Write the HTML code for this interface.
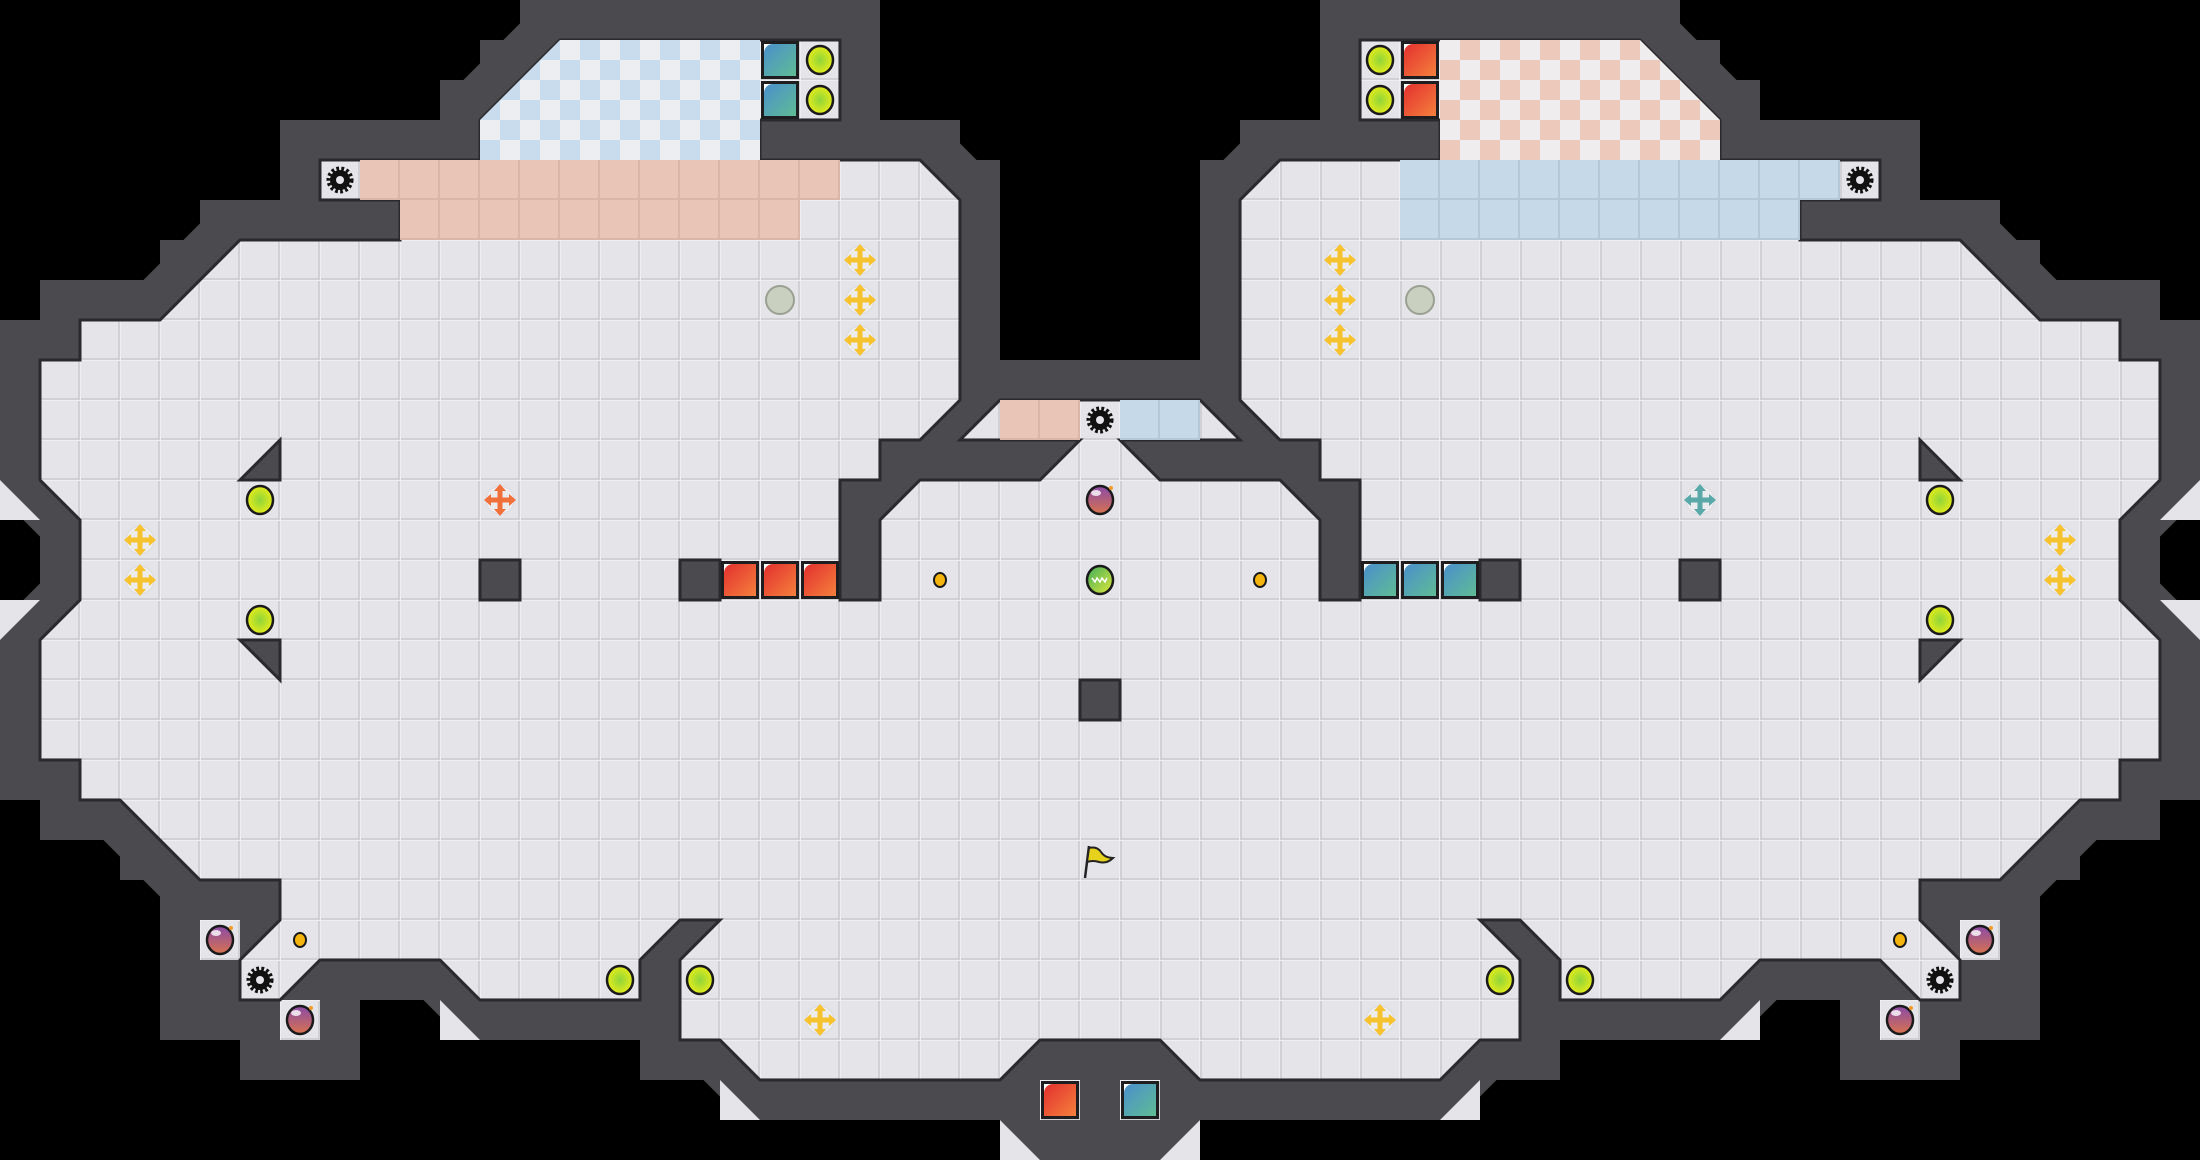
<!DOCTYPE html>
<html><head><meta charset="utf-8"><style>html,body{margin:0;padding:0;background:#000}svg{display:block}</style></head>
<body>
<svg width="2200" height="1160" viewBox="0 0 2200 1160" xmlns="http://www.w3.org/2000/svg">
<defs>
<pattern id="grid" patternUnits="userSpaceOnUse" x="0" y="0" width="40" height="40">
<rect width="40" height="40" fill="#e5e5e9"/><path d="M0,39 H40 M39,0 V40" stroke="#d0d0d5" stroke-width="2"/><path d="M0,0.5 H40 M0.5,0 V40" stroke="#efeff2" stroke-width="1"/></pattern>
<pattern id="gS" patternUnits="userSpaceOnUse" width="40" height="40"><rect width="40" height="40" fill="#e9c5b7"/><path d="M0,39 H40 M39,0 V40" stroke="#dbb5a6" stroke-width="2"/></pattern>
<pattern id="gB" patternUnits="userSpaceOnUse" width="40" height="40"><rect width="40" height="40" fill="#c6d9e8"/><path d="M0,39 H40 M39,0 V40" stroke="#b3c8d8" stroke-width="2"/></pattern>
<pattern id="chB" patternUnits="userSpaceOnUse" width="40" height="40"><rect width="40" height="40" fill="#eceef1"/><rect x="20" width="20" height="20" fill="#c8dced"/><rect y="20" width="20" height="20" fill="#c8dced"/></pattern>
<pattern id="chS" patternUnits="userSpaceOnUse" width="40" height="40"><rect width="40" height="40" fill="#efedee"/><rect x="20" width="20" height="20" fill="#ecc9bb"/><rect y="20" width="20" height="20" fill="#ecc9bb"/></pattern>
<linearGradient id="red" x1="0" y1="0" x2="1" y2="1"><stop offset="0" stop-color="#e3302f"/><stop offset="1" stop-color="#f5803c"/></linearGradient>
<linearGradient id="teal" x1="0" y1="0" x2="1" y2="1"><stop offset="0" stop-color="#4a8fcb"/><stop offset="1" stop-color="#5fbc95"/></linearGradient>
<radialGradient id="lime"><stop offset="0" stop-color="#8fd53a"/><stop offset="1" stop-color="#e4ec1a"/></radialGradient>
<linearGradient id="bombg" x1="0" y1="0" x2="0" y2="1"><stop offset="0" stop-color="#8a4aa8"/><stop offset="1" stop-color="#d8734e"/></linearGradient>
<linearGradient id="jel" x1="0" y1="0" x2="1" y2="1"><stop offset="0" stop-color="#3fae5a"/><stop offset="1" stop-color="#e0e83a"/></linearGradient>
<polyline id="pl" points="1104,400 1000,400 960,440 1080,440 1040,480 920,480 880,520 880,600 840,600 840,480 880,480 880,440 920,440 960,400 960,200 920,160 760,160 760,120 840,120 840,40 560,40 480,120 480,160 320,160 320,200 400,200 400,240 240,240 160,320 80,320 80,360 40,360 40,480 80,520 80,600 40,640 40,760 80,760 80,800 120,800 200,880 280,880 280,920 240,960 240,1000 280,1000 320,960 440,960 480,1000 640,1000 640,960 680,920 720,920 680,960 680,1040 720,1040 760,1080 1000,1080 1040,1040 1104,1040"/>
<polygon id="pg" points="1104,400 1000,400 960,440 1080,440 1040,480 920,480 880,520 880,600 840,600 840,480 880,480 880,440 920,440 960,400 960,200 920,160 760,160 760,120 840,120 840,40 560,40 480,120 480,160 320,160 320,200 400,200 400,240 240,240 160,320 80,320 80,360 40,360 40,480 80,520 80,600 40,640 40,760 80,760 80,800 120,800 200,880 280,880 280,920 240,960 240,1000 280,1000 320,960 440,960 480,1000 640,1000 640,960 680,920 720,920 680,960 680,1040 720,1040 760,1080 1000,1080 1040,1040 1104,1040"/>
<g id="stairs" fill="#4a4a4f">
<rect x="520" y="0" width="360" height="40"/>
<rect x="480" y="40" width="80" height="40"/>
<rect x="440" y="80" width="80" height="40"/>
<rect x="280" y="120" width="200" height="40"/>
<rect x="280" y="160" width="40" height="40"/>
<rect x="200" y="200" width="80" height="40"/>
<rect x="160" y="240" width="80" height="40"/>
<rect x="40" y="280" width="120" height="40"/>
<rect x="0" y="320" width="80" height="40"/>
<rect x="0" y="360" width="40" height="120"/>
<rect x="880" y="120" width="80" height="40"/>
<rect x="920" y="160" width="80" height="40"/>
<rect x="0" y="640" width="40" height="160"/>
<rect x="40" y="800" width="80" height="40"/>
<rect x="120" y="840" width="40" height="40"/>
<rect x="160" y="880" width="40" height="160"/>
<rect x="200" y="1000" width="40" height="40"/>
<rect x="240" y="1040" width="120" height="40"/>
<rect x="320" y="1000" width="40" height="40"/>
<rect x="640" y="1040" width="80" height="40"/>
<rect x="720" y="1080" width="40" height="40"/>
</g>
<g id="cross"><circle r="14" fill="#ececee" stroke="#dcdce0"/><rect x="-2.5" y="-10" width="5" height="20"/><rect x="-10" y="-2.5" width="20" height="5"/><polygon points="0,-16 -6,-9 6,-9"/><polygon points="0,16 -6,9 6,9"/><polygon points="-16,0 -9,-6 -9,6"/><polygon points="16,0 9,-6 9,6"/></g>
<g id="circ"><ellipse rx="13" ry="14" fill="url(#lime)" stroke="#1a1a1a" stroke-width="2.5"/></g>
<g id="gear"><circle r="11" fill="none" stroke="#111" stroke-width="5" stroke-dasharray="2.6 2.2"/><circle r="10" fill="#111"/><circle r="4" fill="#e5e5e9"/></g>
<g id="bomb"><ellipse rx="13" ry="14" fill="url(#bombg)" stroke="#1a1a1a" stroke-width="2.5"/><ellipse cx="-4" cy="-7" rx="5" ry="3" fill="#fff" opacity="0.8"/><circle cx="11" cy="-12" r="2" fill="#f39a2a"/></g>
<g id="dot"><ellipse rx="6" ry="7" fill="#f5b50f" stroke="#1a1a1a" stroke-width="2"/></g>
<g id="cubeR"><rect x="1" y="1" width="38" height="38" fill="#1e1e20"/><rect x="4" y="4" width="32" height="32" fill="url(#red)"/><path d="M4,4 h9 a9,9 0 0 0 -9,9z" fill="#fff"/></g>
<g id="cubeT"><rect x="1" y="1" width="38" height="38" fill="#1e1e20"/><rect x="4" y="4" width="32" height="32" fill="url(#teal)"/><path d="M4,4 h9 a9,9 0 0 0 -9,9z" fill="#fff"/></g>
<clipPath id="ckL"><polygon points="560,40 760,40 760,160 480,160 480,120"/></clipPath>
<clipPath id="ckR"><polygon points="1440,40 1640,40 1720,120 1720,160 1440,160"/></clipPath>
</defs>
<rect width="2200" height="1160" fill="#000"/>
<use href="#stairs"/>
<use href="#stairs" transform="translate(2200,0) scale(-1,1)"/>
<polygon points="1000,1080 1040,1040 1160,1040 1200,1080 1200,1120 1160,1160 1040,1160 1000,1120" fill="#4a4a4f"/>
<g fill="none" stroke-linejoin="miter" stroke-miterlimit="2">
<use href="#pl" stroke="#4a4a4f" stroke-width="80"/>
<use href="#pl" stroke="#4a4a4f" stroke-width="80" transform="translate(2200,0) scale(-1,1)"/>
</g>
<g fill="url(#grid)">
<rect x="200" y="920" width="40" height="40"/><rect x="280" y="1000" width="40" height="40"/>
<rect x="1960" y="920" width="40" height="40"/><rect x="1880" y="1000" width="40" height="40"/>
<rect x="1040" y="1080" width="40" height="40"/><rect x="1120" y="1080" width="40" height="40"/>
</g>
<use href="#pg" fill="url(#grid)"/>
<use href="#pg" fill="url(#grid)" transform="translate(2200,0) scale(-1,1)"/>
<g fill="none" stroke="#2a2a2e" stroke-width="3">
<use href="#pl"/><use href="#pl" transform="translate(2200,0) scale(-1,1)"/>
</g>
<g fill="#e5e5e9">
<polygon points="0,480 40,520 0,520"/><polygon points="0,600 40,600 0,640"/>
<polygon points="440,1000 480,1040 440,1040"/><polygon points="720,1080 760,1120 720,1120"/>
<polygon points="1000,1120 1040,1160 1000,1160"/>
<polygon points="2200,480 2160,520 2200,520"/><polygon points="2200,600 2160,600 2200,640"/>
<polygon points="1760,1000 1720,1040 1760,1040"/><polygon points="1480,1080 1440,1120 1480,1120"/>
<polygon points="1200,1120 1160,1160 1200,1160"/>
</g>
<rect x="480" y="40" width="280" height="120" fill="url(#chB)" clip-path="url(#ckL)"/>
<rect x="1440" y="40" width="280" height="120" fill="url(#chS)" clip-path="url(#ckR)"/>
<rect x="360" y="160" width="480" height="40" fill="url(#gS)"/>
<rect x="400" y="200" width="400" height="40" fill="url(#gS)"/>
<rect x="1400" y="160" width="440" height="40" fill="url(#gB)"/>
<rect x="1400" y="200" width="400" height="40" fill="url(#gB)"/>
<rect x="1000" y="400" width="80" height="40" fill="url(#gS)"/>
<rect x="1120" y="400" width="80" height="40" fill="url(#gB)"/>
<g fill="#4a4a4f" stroke="#2a2a2e" stroke-width="3">
<polygon points="280,440 280,480 240,480"/><polygon points="240,640 280,640 280,680"/>
<polygon points="1920,440 1920,480 1960,480"/><polygon points="1960,640 1920,640 1920,680"/>
<rect x="480" y="560" width="40" height="40"/><rect x="680" y="560" width="40" height="40"/>
<rect x="1080" y="680" width="40" height="40"/>
<rect x="1480" y="560" width="40" height="40"/><rect x="1680" y="560" width="40" height="40"/>
</g>
<use href="#cubeT" x="760" y="40"/><use href="#cubeT" x="760" y="80"/>
<use href="#cubeR" x="1400" y="40"/><use href="#cubeR" x="1400" y="80"/>
<use href="#cubeR" x="720" y="560"/><use href="#cubeR" x="760" y="560"/><use href="#cubeR" x="800" y="560"/>
<use href="#cubeT" x="1360" y="560"/><use href="#cubeT" x="1400" y="560"/><use href="#cubeT" x="1440" y="560"/>
<use href="#cubeR" x="1040" y="1080"/><use href="#cubeT" x="1120" y="1080"/>
<use href="#circ" x="820" y="60"/><use href="#circ" x="820" y="100"/>
<use href="#circ" x="1380" y="60"/><use href="#circ" x="1380" y="100"/>
<use href="#circ" x="260" y="500"/><use href="#circ" x="260" y="620"/>
<use href="#circ" x="1940" y="500"/><use href="#circ" x="1940" y="620"/>
<use href="#circ" x="620" y="980"/><use href="#circ" x="700" y="980"/>
<use href="#circ" x="1500" y="980"/><use href="#circ" x="1580" y="980"/>
<ellipse cx="780" cy="300" rx="14" ry="14" fill="#c9d0bf" stroke="#9aa092" stroke-width="2"/>
<ellipse cx="1420" cy="300" rx="14" ry="14" fill="#c9d0bf" stroke="#9aa092" stroke-width="2"/>
<g fill="#f6c22d">
<use href="#cross" x="860" y="260"/><use href="#cross" x="860" y="300"/><use href="#cross" x="860" y="340"/>
<use href="#cross" x="1340" y="260"/><use href="#cross" x="1340" y="300"/><use href="#cross" x="1340" y="340"/>
<use href="#cross" x="140" y="540"/><use href="#cross" x="140" y="580"/>
<use href="#cross" x="2060" y="540"/><use href="#cross" x="2060" y="580"/>
<use href="#cross" x="820" y="1020"/><use href="#cross" x="1380" y="1020"/>
</g>
<g fill="#f0703a"><use href="#cross" x="500" y="500"/></g>
<g fill="#5aa8a8"><use href="#cross" x="1700" y="500"/></g>
<use href="#gear" x="340" y="180"/><use href="#gear" x="1860" y="180"/><use href="#gear" x="1100" y="420"/>
<use href="#gear" x="260" y="980"/><use href="#gear" x="1940" y="980"/>
<use href="#bomb" x="1100" y="500"/><use href="#bomb" x="220" y="940"/><use href="#bomb" x="300" y="1020"/>
<use href="#bomb" x="1980" y="940"/><use href="#bomb" x="1900" y="1020"/>
<use href="#dot" x="940" y="580"/><use href="#dot" x="1260" y="580"/><use href="#dot" x="300" y="940"/><use href="#dot" x="1900" y="940"/>
<ellipse cx="1100" cy="580" rx="13" ry="14" fill="url(#jel)" stroke="#1a1a1a" stroke-width="2.5"/>
<path d="M1092,578 l3,4 l2,-4 l3,4 l2,-4 l3,4 l2,-4" stroke="#fff" stroke-width="1.5" fill="none"/>
<line x1="1085" y1="878" x2="1089" y2="846" stroke="#222" stroke-width="2.5"/>
<path d="M1089,848 q8,-2 12,4 q4,6 12,6 q-6,6 -14,4 q-6,-2 -12,0 z" fill="#e6d21c" stroke="#222" stroke-width="2"/>
</svg>
</body></html>
